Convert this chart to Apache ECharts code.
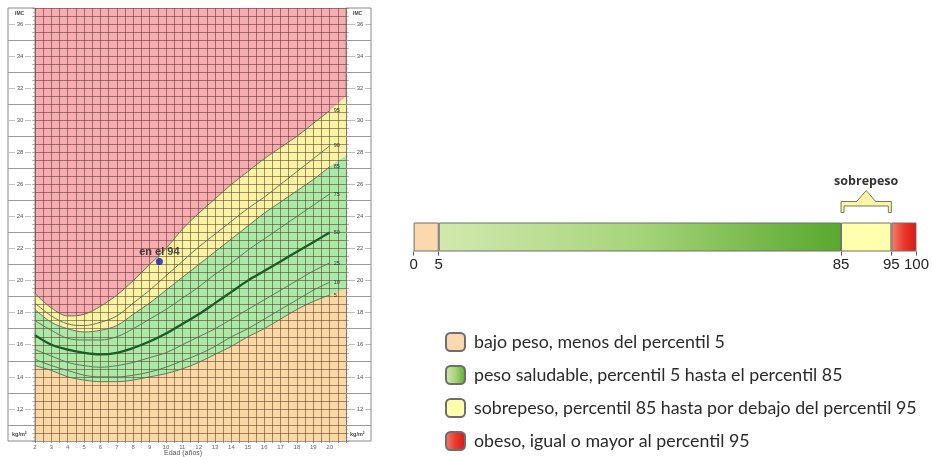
<!DOCTYPE html>
<html><head><meta charset="utf-8">
<script src="https://cdn.jsdelivr.net/npm/echarts@6/dist/echarts.min.js"></script>
<style>html,body{margin:0;padding:0;background:#fff;}#c{width:932px;height:457px;}</style>
</head><body><div id="c"></div>
<script>
// ---- Left chart: BMI-for-age percentiles (boys) ----
const ages = [2,3,4,5,6,7,8,9,10,11,12,13,14,15,16,17,18,19,20];
const p5  = [14.7,14.4,14.0,13.8,13.7,13.7,13.8,14.0,14.2,14.5,14.9,15.4,15.9,16.5,17.0,17.6,18.2,18.7,19.1];
const p10 = [15.1,14.7,14.4,14.1,14.0,14.0,14.1,14.3,14.6,15.0,15.4,15.9,16.5,17.0,17.6,18.2,18.8,19.4,19.9];
const p25 = [15.7,15.3,14.9,14.7,14.6,14.7,14.9,15.2,15.5,16.0,16.5,17.0,17.6,18.2,18.8,19.4,20.0,20.6,21.1];
const p50 = [16.6,16.0,15.7,15.5,15.4,15.5,15.8,16.2,16.7,17.3,17.9,18.6,19.3,20.0,20.6,21.2,21.8,22.4,23.0];
const p75 = [17.5,16.9,16.4,16.3,16.3,16.5,17.0,17.6,18.2,18.9,19.6,20.4,21.1,21.9,22.6,23.3,24.0,24.7,25.4];
const p85 = [18.2,17.4,17.0,16.8,16.9,17.2,17.9,18.6,19.4,20.2,21.0,21.8,22.6,23.4,24.2,24.9,25.6,26.3,27.1];
const p90 = [18.6,17.8,17.3,17.2,17.4,17.8,18.6,19.4,20.3,21.2,22.1,22.9,23.7,24.5,25.2,26.0,26.8,27.6,28.4];
const p95 = [19.2,18.3,17.8,17.9,18.4,19.1,20.0,21.0,22.0,23.2,24.2,25.1,26.0,26.8,27.6,28.3,29.0,29.8,30.6];
const percentileNames = ['5','10','25','50','75','85','90','95'];
// band edges continue to the right border of the grid (age 21)
const bandEndAge = 21;
const p5End = 19.5, p85End = 27.8, p95End = 31.5;
const pointAge = 9.6, pointBmi = 21.2, pointLabel = 'en el 94';
const xTickLabels = [2,3,4,5,6,7,8,9,10,11,12,13,14,15,16,17,18,19,20];
const yTickLabels = [12,14,16,18,20,22,24,26,28,30,32,34,36];
const stripDividers = [11,13,15,17,19,21,23,25,27,29,31,33,35];

// ---- Right chart: percentile bar ----
const segNames = ['bajo peso, menos del percentil 5','peso saludable, percentil 5 hasta el percentil 85','sobrepeso, percentil 85 hasta por debajo del percentil 95','obeso, igual o mayor al percentil 95'];
const segValues = [5, 80, 10, 5];
const barTicks = [0, 5, 85, 95, 100];
const bracketRange = [85, 95];
const bracketLabel = 'sobrepeso';

const pairs = (xs, ys) => xs.map((x, i) => [x, ys[i]]);
const isInt = v => Math.abs(v - Math.round(v)) < 1e-6;
const yLab = v => (isInt(v) && yTickLabels.indexOf(Math.round(v)) >= 0) ? '— ' + Math.round(v) + ' —' : '';

const chart = echarts.init(document.getElementById('c'), null, {renderer: 'canvas'});
const gridLineColor = 'rgba(75,30,25,0.48)';
const fillColors = {red: '#f6adb2', yellow: '#f8f4a4', green: '#a8eaa6', orange: '#fad8a4'};

const pctArrays = [p5, p10, p25, p50, p75, p85, p90, p95];
const lineSeries = pctArrays.map((arr, i) => ({
  type: 'line', name: percentileNames[i], xAxisIndex: 0, yAxisIndex: 0,
  data: pairs(ages, arr), smooth: 0.35, showSymbol: false, symbol: 'none', z: 4, silent: true,
  lineStyle: percentileNames[i] === '50' ? {color: '#1d5a26', width: 2.3} : {color: '#5d6b55', width: 0.9},
  endLabel: {show: true, formatter: percentileNames[i], fontSize: 5.5, color: '#333', distance: 4, fontFamily: 'Liberation Sans'}
}));

const band = (arr, endVal, color) => ({
  type: 'line', xAxisIndex: 0, yAxisIndex: 0, smooth: 0.35, showSymbol: false, symbol: 'none', z: 1, silent: true,
  data: pairs(ages.concat([bandEndAge]), arr.concat([endVal])),
  lineStyle: {width: 0, opacity: 0}, areaStyle: {color: color, opacity: 1, origin: 'start'}
});

const segColors = [
  '#fbd8ae',
  {type: 'linear', x: 0, y: 0, x2: 1, y2: 0, colorStops: [{offset: 0, color: '#d2e9ae'}, {offset: 0.5, color: '#a6d47a'}, {offset: 1, color: '#58a82e'}]},
  '#ffffae',
  {type: 'linear', x: 0, y: 0, x2: 1, y2: 0, colorStops: [{offset: 0, color: '#f4826c'}, {offset: 0.5, color: '#e83a2e'}, {offset: 1, color: '#d81515'}]}
];
const barSeries = segNames.map((n, i) => ({
  type: 'bar', name: n, stack: 'p', xAxisIndex: 3, yAxisIndex: 4, barWidth: '100%', silent: true,
  data: [segValues[i]],
  itemStyle: {color: segColors[i], borderColor: '#6e6e6e', borderWidth: 1}
}));

const option = {
  animation: false,
  backgroundColor: '#fff',
  grid: [
    {left: 35, top: 8, width: 311, height: 433, show: true, backgroundColor: fillColors.red, borderWidth: 0},
    {left: 8, top: 8, width: 27, height: 433, show: true, backgroundColor: '#fff', borderColor: '#8a8a8a', borderWidth: 1},
    {left: 346, top: 8, width: 25, height: 433, show: true, backgroundColor: '#fff', borderColor: '#8a8a8a', borderWidth: 1},
    {left: 413.6, top: 222.5, width: 505.4, height: 29}
  ],
  xAxis: [
    {gridIndex: 0, type: 'value', min: 2, max: 21, interval: 0.5, z: 3,
     axisLine: {show: false},
     axisTick: {show: true, length: 2, lineStyle: {color: '#777', width: 0.8}},
     axisLabel: {fontSize: 6, color: '#666', margin: 3, fontFamily: 'Liberation Sans',
       formatter: v => (isInt(v) && xTickLabels.indexOf(Math.round(v)) >= 0) ? String(Math.round(v)) : ''},
     splitLine: {show: true, lineStyle: {color: gridLineColor, width: 1}}},
    {gridIndex: 1, type: 'value', min: 0, max: 1, show: false},
    {gridIndex: 2, type: 'value', min: 0, max: 1, show: false},
    {gridIndex: 3, type: 'value', min: 0, max: 100,
     axisLine: {show: false}, splitLine: {show: false},
     axisTick: {show: true, customValues: barTicks, length: 4, lineStyle: {color: '#555', width: 1}},
     axisLabel: {customValues: barTicks, fontSize: 15, color: '#222', margin: 6, fontFamily: 'Liberation Sans'}}
  ],
  yAxis: [
    {gridIndex: 0, type: 'value', min: 10, max: 37, interval: 0.5, z: 3, position: 'left',
     axisLine: {show: false},
     axisTick: {show: true, length: 3, lineStyle: {color: '#888', width: 0.6}},
     minorTick: {show: true, splitNumber: 2, length: 2, lineStyle: {color: '#999', width: 0.5}},
     axisLabel: {fontSize: 6, color: '#555', margin: 4, fontFamily: 'Liberation Sans', formatter: yLab},
     splitLine: {show: true, lineStyle: {color: gridLineColor, width: 1}}},
    {gridIndex: 0, type: 'value', min: 10, max: 37, interval: 0.5, position: 'right',
     axisLine: {show: false}, splitLine: {show: false},
     axisTick: {show: true, length: 3, lineStyle: {color: '#888', width: 0.6}},
     minorTick: {show: true, splitNumber: 2, length: 2, lineStyle: {color: '#999', width: 0.5}},
     axisLabel: {fontSize: 6, color: '#555', margin: 3, fontFamily: 'Liberation Sans', formatter: yLab}},
    {gridIndex: 1, type: 'value', min: 10, max: 37, show: false},
    {gridIndex: 2, type: 'value', min: 10, max: 37, show: false},
    {gridIndex: 3, type: 'category', data: ['p'], show: false}
  ],
  legend: {
    data: segNames, orient: 'vertical', left: 445, top: 332, height: 125, padding: 0,
    itemWidth: 19, itemHeight: 18, itemGap: 13,
    selectedMode: false, icon: 'roundRect',
    textStyle: {fontSize: 17.8, fontFamily: 'Lato', color: '#2a2a2a', lineHeight: 18, padding: [0, 0, 0, 4]}
  },
  graphic: [
    {type: 'text', left: 15, top: 11, style: {text: 'IMC', fontSize: 5, fontWeight: 'bold', fill: '#444', fontFamily: 'Liberation Sans'}},
    {type: 'text', left: 353, top: 11, style: {text: 'IMC', fontSize: 5, fontWeight: 'bold', fill: '#444', fontFamily: 'Liberation Sans'}},
    {type: 'text', left: 12, top: 431, style: {text: 'kg/m²', fontSize: 5.5, fontWeight: 'bold', fill: '#444', fontFamily: 'Liberation Sans'}},
    {type: 'text', left: 350, top: 431, style: {text: 'kg/m²', fontSize: 5.5, fontWeight: 'bold', fill: '#444', fontFamily: 'Liberation Sans'}},
    {type: 'text', left: 164, top: 450, style: {text: 'Edad (años)', fontSize: 7, fill: '#555', fontFamily: 'Liberation Sans'}}
  ],
  series: [
    band(p95, p95End, fillColors.yellow),
    band(p85, p85End, fillColors.green),
    band(p5, p5End, fillColors.orange),
    ...lineSeries,
    {type: 'scatter', xAxisIndex: 0, yAxisIndex: 0, z: 6, silent: true, symbolSize: 7,
     data: [[pointAge, pointBmi]], itemStyle: {color: '#1717c8'},
     label: {show: true, position: 'top', distance: 0, formatter: pointLabel, fontSize: 11, fontWeight: 'bold', color: '#1c1c1c', fontFamily: 'Liberation Sans'}},
    {type: 'line', xAxisIndex: 1, yAxisIndex: 2, data: [], silent: true,
     markLine: {silent: true, symbol: 'none', label: {show: false},
       lineStyle: {color: '#9a9a9a', width: 1, type: 'solid'},
       data: stripDividers.map(v => ({yAxis: v}))}},
    {type: 'line', xAxisIndex: 2, yAxisIndex: 3, data: [], silent: true,
     markLine: {silent: true, symbol: 'none', label: {show: false},
       lineStyle: {color: '#9a9a9a', width: 1, type: 'solid'},
       data: stripDividers.map(v => ({yAxis: v}))}},
    ...barSeries,
    {type: 'custom', xAxisIndex: 3, yAxisIndex: 4, silent: true, z: 5,
     data: [[bracketRange[0], bracketRange[1], 0]], encode: {x: [0, 1], y: 2},
     renderItem: function (params, api) {
       const a = api.coord([api.value(0), 0]);
       const b = api.coord([api.value(1), 0]);
       const bandH = api.size([0, 1])[1];
       const yT = a[1] - bandH / 2;
       const x0 = a[0], x1 = b[0], xm = (x0 + x1) / 2;
       const pts = [[x0, yT - 10], [x0, yT - 21], [xm - 9.5, yT - 21], [xm, yT - 32], [xm + 9.5, yT - 21],
                    [x1, yT - 21], [x1, yT - 10], [x1 - 3, yT - 10], [x1 - 3, yT - 16.5], [x0 + 3, yT - 16.5], [x0 + 3, yT - 10]];
       return {type: 'group', children: [
         {type: 'polygon', shape: {points: pts}, style: {fill: '#fbf5a4', stroke: '#77775f', lineWidth: 1}},
         {type: 'text', style: {text: bracketLabel, x: xm, y: yT - 41, align: 'center', verticalAlign: 'middle',
           fontSize: 12.5, fontWeight: 'bold', fontFamily: 'Open Sans', fill: '#333'}}
       ]};
     }}
  ]
};
chart.setOption(option);
</script></body></html>
